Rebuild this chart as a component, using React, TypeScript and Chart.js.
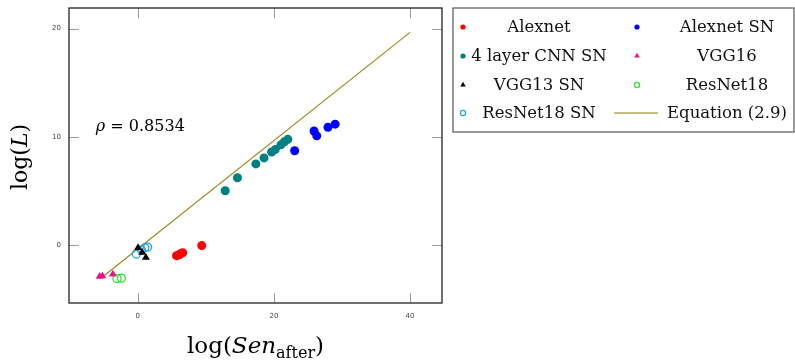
import React, { useEffect, useRef } from "react";
import { Chart, registerables } from "chart.js";
Chart.register(...registerables);

const alexnetX = [5.7, 6.0, 6.3, 6.6, 9.4];
const alexnetY = [-0.98, -0.92, -0.8, -0.71, -0.05];
const alexnetSnX = [23.05, 25.9, 26.3, 27.95, 29.0];
const alexnetSnY = [8.71, 10.54, 10.09, 10.88, 11.17];
const cnnSnX = [12.85, 14.65, 17.35, 18.55, 19.66, 20.2, 21.03, 21.55, 22.05];
const cnnSnY = [5.02, 6.22, 7.5, 8.05, 8.6, 8.82, 9.26, 9.54, 9.77];
const vgg16X = [-5.6, -5.2, -3.65];
const vgg16Y = [-2.9, -2.86, -2.7];
const vgg13SnX = [0.05, 0.65, 1.2];
const vgg13SnY = [-0.25, -0.68, -1.15];
const resnet18X = [-3.05, -2.4];
const resnet18Y = [-3.1, -3.05];
const resnet18SnX = [-0.2, 0.55, 1.05, 1.45];
const resnet18SnY = [-0.83, -0.46, -0.25, -0.18];
const equationX = [-5.1, 40];
const equationY = [-2.9, 19.65];
const xTicks = [0, 20, 40];
const yTicks = [0, 10, 20];
const rhoLabel = "0.8534";
const rhoPos = [-6.3, 10.5];

const SERIF = '"DejaVu Serif", serif';

const zip = (xs: number[], ys: number[]) => xs.map((x, i) => ({ x, y: ys[i] }));

type Entry = { label: string; color: string; style: string; filled: boolean };

function drawMarker(ctx: CanvasRenderingContext2D, e: Entry, x: number, y: number, r: number) {
  ctx.save();
  ctx.fillStyle = e.color;
  ctx.strokeStyle = e.color;
  ctx.lineWidth = 1.2;
  ctx.beginPath();
  if (e.style === "line") {
    ctx.lineWidth = 1.6;
    ctx.moveTo(x - 22, y);
    ctx.lineTo(x + 22, y);
    ctx.stroke();
  } else if (e.style === "triangle") {
    let rad = 0;
    ctx.moveTo(x + Math.sin(rad) * r, y - Math.cos(rad) * r);
    rad += (2 * Math.PI) / 3;
    ctx.lineTo(x + Math.sin(rad) * r, y - Math.cos(rad) * r);
    rad += (2 * Math.PI) / 3;
    ctx.lineTo(x + Math.sin(rad) * r, y - Math.cos(rad) * r);
    ctx.closePath();
    ctx.fill();
  } else {
    ctx.arc(x, y, r, 0, Math.PI * 2);
    if (e.filled) ctx.fill();
    else ctx.stroke();
  }
  ctx.restore();
}

const decorPlugin = {
  id: "decor",
  beforeDatasetsDraw(chart: any) {
    const ctx: CanvasRenderingContext2D = chart.ctx;
    const { left, right, top, bottom } = chart.chartArea;
    const xs = chart.scales.x;
    const ys = chart.scales.y;
    ctx.save();
    ctx.strokeStyle = "#9a9a9a";
    ctx.lineWidth = 1;
    const tl = 10;
    xTicks.forEach((v) => {
      const px = Math.round(xs.getPixelForValue(v)) + 0.5;
      ctx.beginPath();
      ctx.moveTo(px, bottom);
      ctx.lineTo(px, bottom - tl);
      ctx.moveTo(px, top);
      ctx.lineTo(px, top + tl);
      ctx.stroke();
    });
    yTicks.forEach((v) => {
      const py = Math.round(ys.getPixelForValue(v)) + 0.5;
      ctx.beginPath();
      ctx.moveTo(left, py);
      ctx.lineTo(left + tl, py);
      ctx.moveTo(right, py);
      ctx.lineTo(right - tl, py);
      ctx.stroke();
    });
    ctx.fillStyle = "#444";
    ctx.font = '7px "DejaVu Sans", sans-serif';
    ctx.textAlign = "center";
    ctx.textBaseline = "middle";
    xTicks.forEach((v) => {
      ctx.fillText(String(v), xs.getPixelForValue(v), bottom + 13);
    });
    ctx.textAlign = "right";
    yTicks.forEach((v) => {
      ctx.fillText(String(v), left - 8, ys.getPixelForValue(v));
    });
    ctx.restore();
  },
  afterDraw(chart: any) {
    const ctx: CanvasRenderingContext2D = chart.ctx;
    const { left, right, top, bottom } = chart.chartArea;
    const xs = chart.scales.x;
    const ys = chart.scales.y;
    ctx.save();
    ctx.strokeStyle = "#222";
    ctx.lineWidth = 1.3;
    ctx.strokeRect(left, top, right - left, bottom - top);

    ctx.fillStyle = "#000";
    ctx.textBaseline = "alphabetic";
    ctx.textAlign = "left";
    const ax = xs.getPixelForValue(rhoPos[0]);
    const ay = ys.getPixelForValue(rhoPos[1]);
    ctx.font = "italic 16px " + SERIF;
    ctx.fillText("ρ", ax + 1, ay);
    let w = ctx.measureText("ρ").width;
    ctx.font = "16px " + SERIF;
    ctx.fillText(" = " + rhoLabel, ax + 1 + w, ay);

    const segs = [
      { t: "log(", f: "23px " + SERIF, dy: 0 },
      { t: "Sen", f: "italic 23px " + SERIF, dy: 0 },
      { t: "after", f: "16px " + SERIF, dy: 5 },
      { t: ")", f: "23px " + SERIF, dy: 0 },
    ];
    let total = 0;
    segs.forEach((s) => {
      ctx.font = s.f;
      total += ctx.measureText(s.t).width;
    });
    let cx = (left + right) / 2 - total / 2;
    const by = 353;
    segs.forEach((s) => {
      ctx.font = s.f;
      ctx.fillText(s.t, cx, by + s.dy);
      cx += ctx.measureText(s.t).width;
    });

    ctx.save();
    ctx.translate(27, 157);
    ctx.rotate(-Math.PI / 2);
    const ysegs = [
      { t: "log(", f: "22px " + SERIF },
      { t: "L", f: "italic 22px " + SERIF },
      { t: ")", f: "22px " + SERIF },
    ];
    let yt = 0;
    ysegs.forEach((s) => {
      ctx.font = s.f;
      yt += ctx.measureText(s.t).width;
    });
    let yx = -yt / 2;
    ysegs.forEach((s) => {
      ctx.font = s.f;
      ctx.fillText(s.t, yx, 0);
      yx += ctx.measureText(s.t).width;
    });
    ctx.restore();

    ctx.strokeStyle = "#555";
    ctx.lineWidth = 1.2;
    ctx.strokeRect(453, 8, 341, 124);
    const entries: Entry[] = chart.data.datasets.map((d: any) => d._legend);
    const rows = [27, 56, 85, 113];
    const markerX = [463, 637];
    const textX = [539, 727];
    ctx.font = "16.5px " + SERIF;
    ctx.textAlign = "center";
    ctx.textBaseline = "middle";
    entries.forEach((e, i) => {
      const r = Math.floor(i / 2);
      const c = i % 2;
      const y = rows[r];
      const mx = e.style === "line" ? 636 : markerX[c];
      drawMarker(ctx, e, mx, y, e.style === "triangle" ? 3.2 : 2.6);
      ctx.fillStyle = "#111";
      ctx.fillText(e.label, textX[c], y + 1);
    });
    ctx.restore();
  },
};

function mk(label: string, xs: number[], ys: number[], color: string, style: string, filled: boolean) {
  return {
    type: "scatter" as const,
    label,
    data: zip(xs, ys),
    pointStyle: style,
    pointRadius: style === "triangle" ? 4.6 : filled ? 4.5 : 4,
    pointBackgroundColor: filled ? color : "rgba(0,0,0,0)",
    pointBorderColor: color,
    pointBorderWidth: filled ? 0 : 1.3,
    showLine: false,
    _legend: { label, color, style, filled },
  };
}

export default function App() {
  const ref = useRef<HTMLCanvasElement>(null);
  useEffect(() => {
    if (!ref.current) return;
    const equation = {
      type: "line" as const,
      label: "Equation (2.9)",
      data: zip(equationX, equationY),
      borderColor: "#9a8a1c",
      borderWidth: 1.2,
      pointRadius: 0,
      fill: false,
      _legend: { label: "Equation (2.9)", color: "#b5ab5a", style: "line", filled: true },
    };
    const chart = new Chart(ref.current, {
      type: "scatter",
      data: {
        datasets: [
          mk("Alexnet", alexnetX, alexnetY, "#ff0000", "circle", true),
          mk("Alexnet SN", alexnetSnX, alexnetSnY, "#0000ff", "circle", true),
          mk("4 layer CNN SN", cnnSnX, cnnSnY, "#008080", "circle", true),
          mk("VGG16", vgg16X, vgg16Y, "#ee1187", "triangle", true),
          mk("VGG13 SN", vgg13SnX, vgg13SnY, "#000000", "triangle", true),
          mk("ResNet18", resnet18X, resnet18Y, "#22ee22", "circle", false),
          mk("ResNet18 SN", resnet18SnX, resnet18SnY, "#19a3e6", "circle", false),
          equation,
        ] as any,
      },
      options: {
        animation: false,
        responsive: false,
        layout: { padding: { left: 69, top: 8, right: 353, bottom: 61 } },
        plugins: { legend: { display: false }, tooltip: { enabled: false } },
        scales: {
          x: { type: "linear", min: -10.1, max: 44.7, display: false },
          y: { type: "linear", min: -5.35, max: 21.9, display: false },
        },
      },
      plugins: [decorPlugin],
    });
    return () => chart.destroy();
  }, []);
  return (
    <div style={{ position: "absolute", left: 0, top: 0, width: 795, height: 364, background: "#fff" }}>
      <canvas ref={ref} width={795} height={364} style={{ display: "block" }} />
    </div>
  );
}
